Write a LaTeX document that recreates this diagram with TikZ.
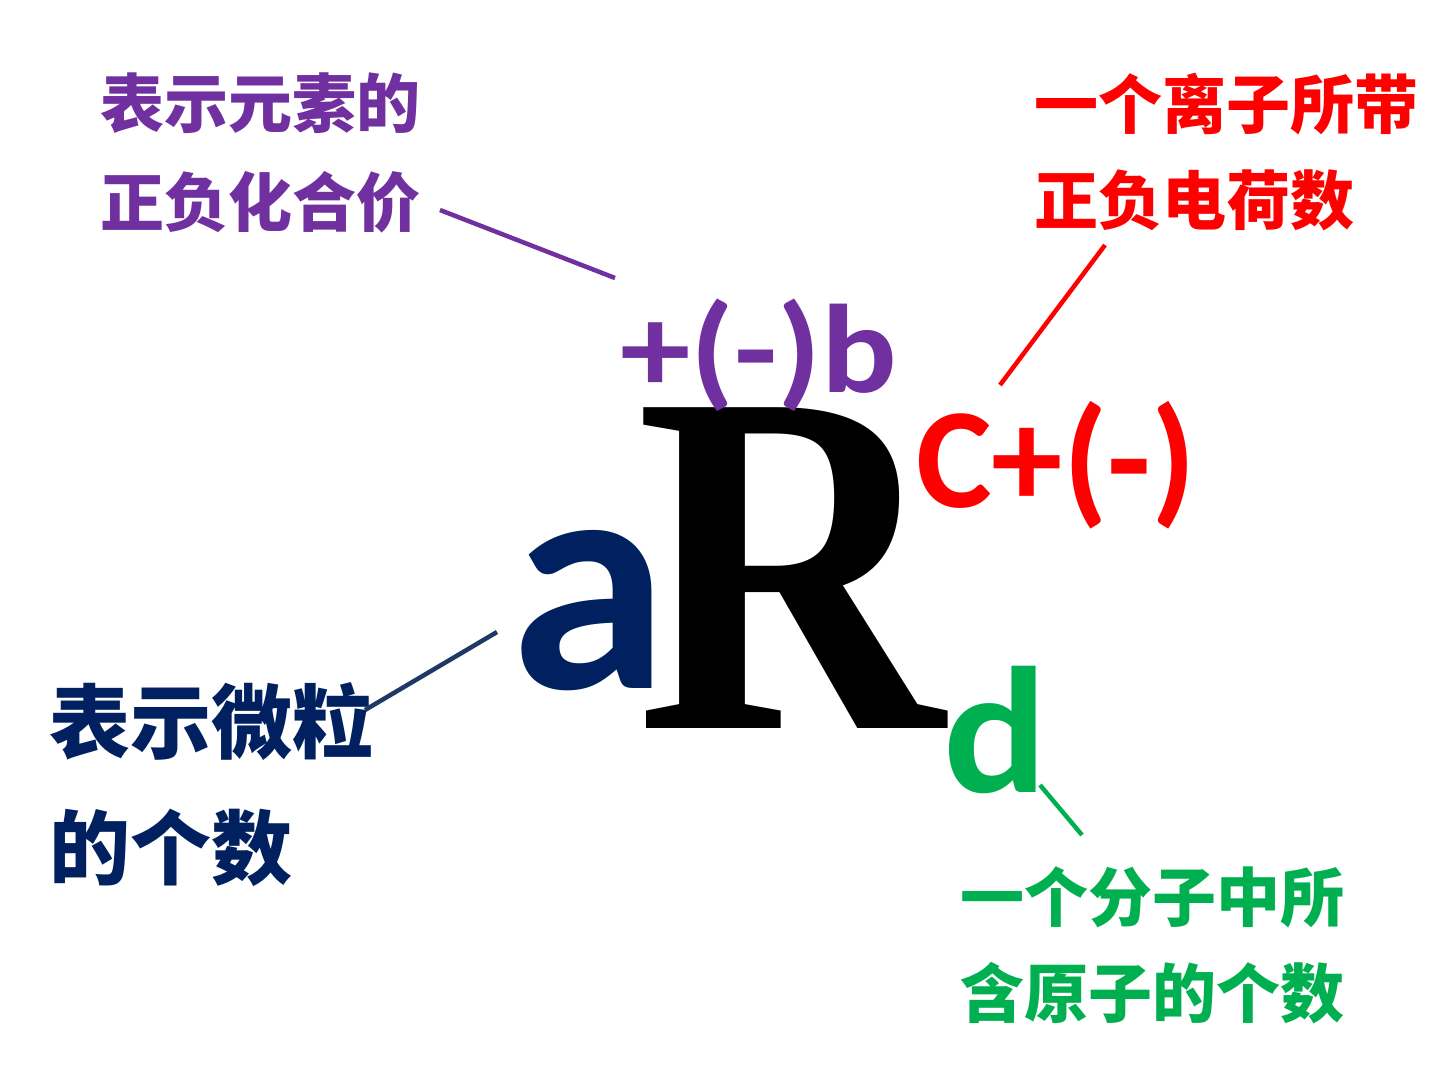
\documentclass[tikz,border=0pt]{standalone}
\usepackage{fontspec}
\newfontfamily\cjk{Noto Sans CJK SC}[BoldFont={* Black}]
\newfontfamily\lat{Carlito}
\newfontfamily\ser{Liberation Serif}
\definecolor{cpurple}{RGB}{112,48,160}
\definecolor{cred}{RGB}{255,0,0}
\definecolor{cgreen}{RGB}{0,176,80}
\definecolor{cnavy}{RGB}{0,32,96}
\definecolor{cline}{RGB}{31,56,100}
\tikzset{
  cjklabel/.style={inner sep=0pt, anchor=west, font=\cjk\bfseries\fontsize{64}{64}\selectfont},
  sym/.style={inner sep=0pt, anchor=base west},
  leader/.style={line width=4.5pt}
}
\begin{document}
\begin{tikzpicture}[x=1pt,y=-1pt]
\useasboundingbox (0,0) rectangle (1440,1080);
% labels
\node[cjklabel, text=cpurple] (p1) at (100,103) {表示元素的};
\node[cjklabel, text=cpurple] (p2) at (100,202) {正负化合价};
\node[cjklabel, text=cred] (r1) at (1034,104) {一个离子所带};
\node[cjklabel, text=cred] (r2) at (1034,200) {正负电荷数};
\node[cjklabel, text=cnavy, font=\cjk\bfseries\fontsize{81}{81}\selectfont] (n1) at (49,722) {表示微粒};
\node[cjklabel, text=cnavy, font=\cjk\bfseries\fontsize{81}{81}\selectfont] (n2) at (49,848) {的个数};
\node[cjklabel, text=cgreen] (g1) at (960,897) {一个分子中所};
\node[cjklabel, text=cgreen] (g2) at (960,993) {含原子的个数};
% symbols
\node[sym, text=black, font=\ser\bfseries\fontsize{490}{490}\selectfont] (R) at (636,728) {\scalebox{0.87}[1]{R}};
\node[sym, text=cnavy, font=\lat\bfseries\fontsize{320}{320}\selectfont] (a) at (510,688) {a};
\node[sym, text=cpurple, font=\lat\bfseries\fontsize{126}{126}\selectfont] (b) at (620,392) {\scalebox{1.12}[1]{+(-)b}};
\node[sym, text=cred, font=\lat\bfseries\fontsize{143}{143}\selectfont] (c) at (916,507) {C+(-)};
\node[sym, text=cgreen, font=\lat\bfseries\fontsize{180}{180}\selectfont] (d) at (943,792) {\scalebox{1.08}[1]{d}};
% leader lines
\coordinate (pA) at (440,210); \coordinate (pB) at (615,278);
\coordinate (rA) at (1105,245); \coordinate (rB) at (1000,385);
\coordinate (nA) at (497,632); \coordinate (nB) at (365,710);
\coordinate (gA) at (1040,785); \coordinate (gB) at (1082,835);
\draw[leader, cpurple] (pA) -- (pB);
\draw[leader, cred] (rA) -- (rB);
\draw[leader, cline] (nA) -- (nB);
\draw[leader, cgreen] (gA) -- (gB);
\end{tikzpicture}
\end{document}
